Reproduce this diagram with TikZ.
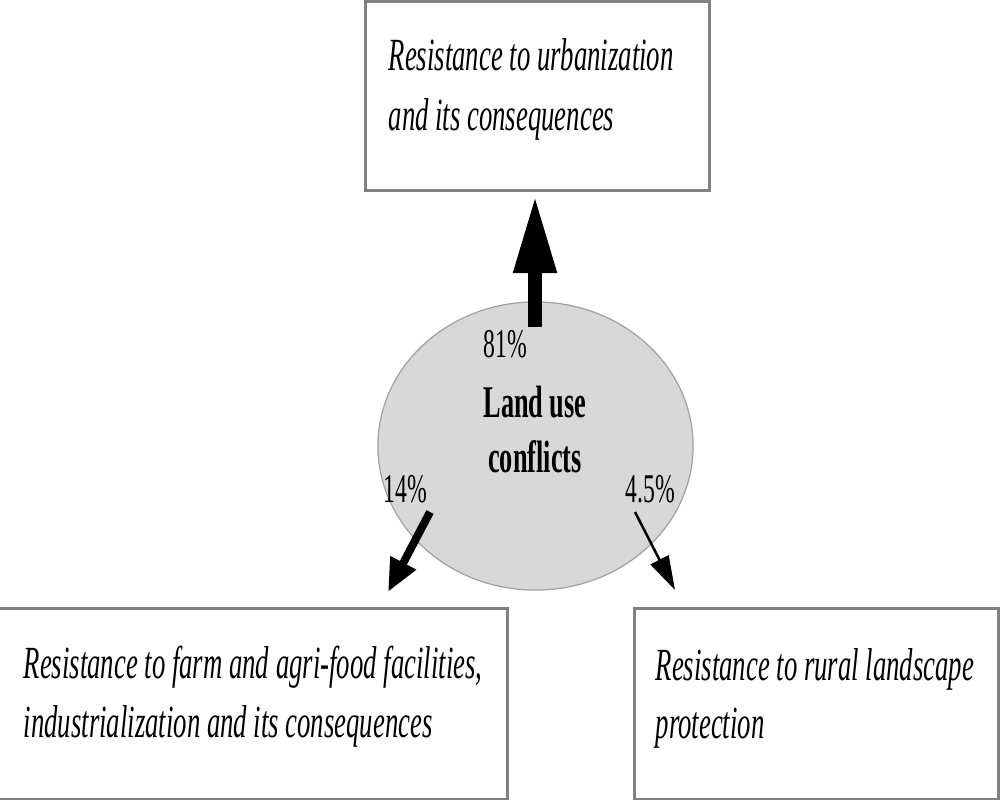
\documentclass[tikz,border=0pt]{standalone}
\usepackage{fontspec}
\setmainfont[FakeStretch=0.58]{Liberation Serif}
\usetikzlibrary{arrows.meta,shapes.geometric}
\definecolor{boxgray}{RGB}{128,128,128}
\definecolor{ellfill}{RGB}{216,216,216}
\definecolor{ellline}{RGB}{160,160,160}
\tikzset{
  box/.style={draw=boxgray, line width=0.03cm, fill=white, inner sep=0pt},
  boxtext/.style={anchor=base west, inner sep=0pt, font=\fontsize{13.1}{17}\selectfont\itshape},
  pct/.style={anchor=base west, inner sep=0pt, font=\fontsize{11.6}{14}\selectfont},
  ctext/.style={anchor=base, inner sep=0pt, font=\fontsize{12.9}{15}\selectfont\bfseries},
  bigarrow/.style={line width=0.14cm, -{Triangle[width=0.40cm,length=0.78cm]}},
  midarrow/.style={line width=0.08cm, -{Triangle[width=0.27cm,length=0.33cm]}},
  thinarrow/.style={line width=0.025cm, -{Triangle[width=0.2cm,length=0.34cm]}}
}
\begin{document}
\begin{tikzpicture}[x=0.01cm,y=-0.01cm]
\useasboundingbox (0,0) rectangle (1000,800);
% boxes
\node[box, minimum width=3.44cm, minimum height=1.88cm] (top) at (537.5,96) {};
\node[box, minimum width=5.08cm, minimum height=1.9cm] (bl) at (253,704) {};
\node[box, minimum width=3.63cm, minimum height=1.9cm] (br) at (816.5,704) {};
% ellipse
\node[ellipse, draw=ellline, fill=ellfill, line width=0.012cm, minimum width=3.15cm, minimum height=2.88cm, inner sep=0pt] (conf) at (535.5,446) {};
% box texts
\node[boxtext] (t1a) at (388,70) {Resistance to urbanization};
\node[boxtext] (t1b) at (388,130) {and its consequences};
\node[boxtext] (t2a) at (23,678) {Resistance to farm and agri-food facilities,};
\node[boxtext] (t2b) at (23,737) {industrialization and its consequences};
\node[boxtext] (t3a) at (655,680) {Resistance to rural landscape};
\node[boxtext] (t3b) at (655,738) {protection};
% center texts
\node[ctext] (c1) at (535,417) {Land use};
\node[ctext] (c2) at (535,472) {conflicts};
\node[pct] (p81) at (483,357) {81\%};
\node[pct] (p14) at (383,502) {14\%};
\node[pct] (p45) at (625,502) {4.5\%};
% arrows
\coordinate (s1) at (535,327);
\coordinate (e1) at (535,195);
\coordinate (s2) at (430,512);
\coordinate (e2) at (388,592);
\coordinate (s3) at (635,512);
\coordinate (e3) at (675,590);
\draw[bigarrow] (s1) -- (e1);
\draw[midarrow] (s2) -- (e2);
\draw[thinarrow] (s3) -- (e3);
\end{tikzpicture}
\end{document}
